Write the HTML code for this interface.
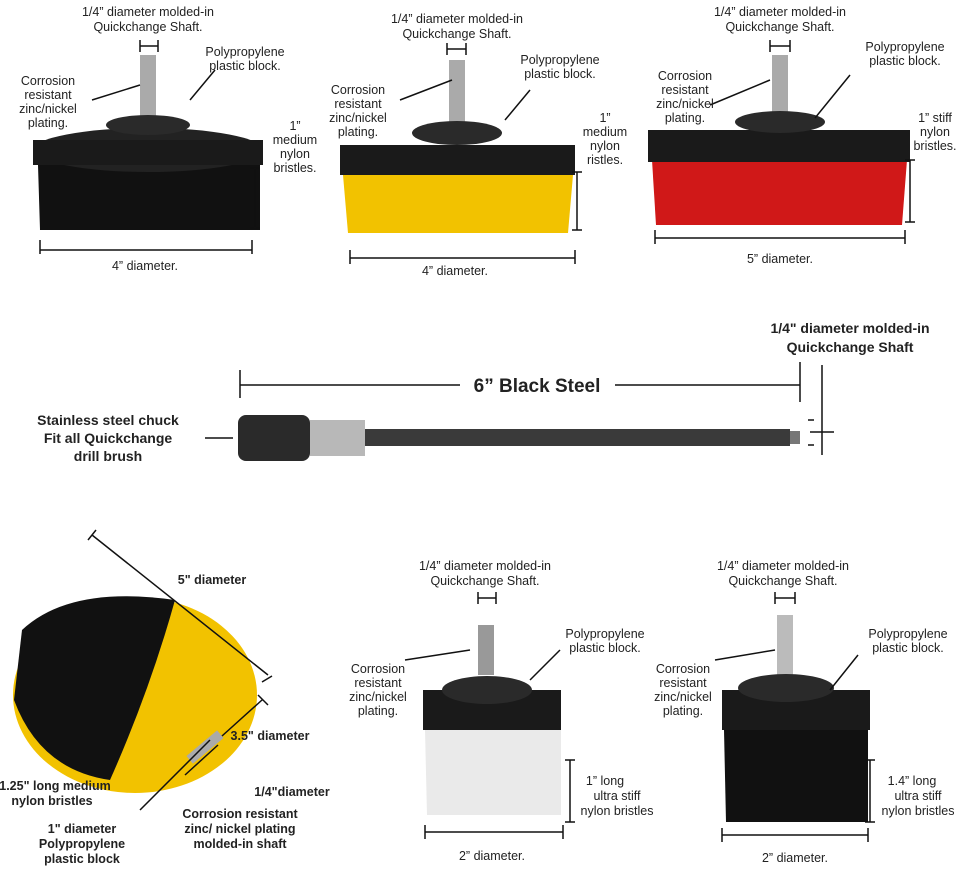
<!DOCTYPE html>
<html><head><meta charset="utf-8"><style>
body{margin:0;background:#fff}
svg{display:block}
text{font-family:"Liberation Sans",Arial,sans-serif;font-size:12.5px;fill:#222;text-anchor:middle}
.b{font-weight:bold}
</style></head><body>
<svg width="965" height="884" viewBox="0 0 965 884" xmlns="http://www.w3.org/2000/svg">
<!-- brush 1 -->
<rect x="140" y="55" width="16" height="65" fill="#aaa"/>
<path d="M38 165h222v65H40z" fill="#111"/>
<ellipse cx="148" cy="150" rx="115" ry="22" fill="#222"/>
<rect x="33" y="140" width="230" height="25" fill="#1a1a1a"/>
<ellipse cx="148" cy="125" rx="42" ry="10" fill="#2a2a2a"/>
<!-- brush 2 -->
<rect x="449" y="60" width="16" height="70" fill="#aaa"/>
<path d="M343 175h230l-5 58H348z" fill="#f2c200"/>
<rect x="340" y="145" width="235" height="30" fill="#1a1a1a"/>
<ellipse cx="457" cy="133" rx="45" ry="12" fill="#2a2a2a"/>
<!-- brush 3 -->
<rect x="772" y="55" width="16" height="65" fill="#aaa"/>
<path d="M652 160h255l-5 65H656z" fill="#d01818"/>
<rect x="648" y="130" width="262" height="32" fill="#1a1a1a"/>
<ellipse cx="780" cy="122" rx="45" ry="11" fill="#2a2a2a"/>
<!-- rod -->
<rect x="238" y="415" width="72" height="46" rx="8" fill="#2a2a2a"/>
<rect x="310" y="420" width="55" height="36" fill="#b8b8b8"/>
<rect x="365" y="429" width="425" height="17" fill="#3a3a3a"/>
<rect x="790" y="431" width="10" height="13" fill="#777"/>
<!-- ball brush -->
<ellipse cx="135" cy="695" rx="122" ry="98" fill="#f2c200"/>
<path d="M22 630Q70 585 175 600Q150 690 110 780Q40 770 14 700z" fill="#111"/>
<rect x="185" y="742" width="40" height="10" fill="#aaa" transform="rotate(-40 205 747)"/>
<!-- white brush -->
<rect x="478" y="625" width="16" height="50" fill="#999"/>
<rect x="423" y="690" width="138" height="40" fill="#1a1a1a"/>
<ellipse cx="487" cy="690" rx="45" ry="14" fill="#2a2a2a"/>
<path d="M425 730h136v85H427z" fill="#eaeaea"/>
<!-- black brush 2 -->
<rect x="777" y="615" width="16" height="70" fill="#bbb"/>
<rect x="722" y="690" width="148" height="40" fill="#1a1a1a"/>
<ellipse cx="786" cy="688" rx="48" ry="14" fill="#2a2a2a"/>
<path d="M724 730h144v92H726z" fill="#111"/>
<g stroke="#111" stroke-width="1.5" fill="none">
<path d="M140 40v12M158 40v12M140 46h18"/>
<path d="M255 168v60M250 168h10M250 228h10"/>
<path d="M40 240v14M252 240v14M40 250h212"/>
<path d="M92 100L140 85M190 100L215 70"/>
<path d="M447 43v12M466 43v12M447 49h19"/>
<path d="M577 172v58M572 172h10M572 230h10"/>
<path d="M350 250v14M575 250v14M350 258h225"/>
<path d="M400 100L452 80M505 120L530 90"/>
<path d="M770 40v12M790 40v12M770 46h20"/>
<path d="M910 160v62M905 160h10M905 222h10"/>
<path d="M655 230v14M905 230v14M655 238h250"/>
<path d="M710 105L770 80M815 118L850 75"/>
<path d="M240 370v28M800 362v40M240 385h220M615 385h185"/>
<path d="M822 365v90M810 432h24M808 420h6M808 445h6"/>
<path d="M205 438h28"/>
<path d="M92 535L268 675M88 540l8-10M262 682l10-6"/>
<path d="M258 695L268 705M222 736L262 700"/>
<path d="M478 592v12M496 592v12M478 598h18"/>
<path d="M405 660L470 650M530 680L560 650"/>
<path d="M570 760v62M565 760h10M565 822h10"/>
<path d="M425 825v14M563 825v14M425 832h138"/>
<path d="M775 592v12M795 592v12M775 598h20"/>
<path d="M715 660L775 650M830 690L858 655"/>
<path d="M870 760v62M865 760h10M865 822h10"/>
<path d="M722 828v14M868 828v14M722 835h146"/>
<path d="M140 810L210 740M185 775L218 745"/>
</g>
<!-- text -->
<text x="148" y="16">1/4” diameter molded-in</text><text x="148" y="31">Quickchange Shaft.</text>
<text x="48" y="85">Corrosion</text><text x="48" y="99">resistant</text><text x="48" y="113">zinc/nickel</text><text x="48" y="127">plating.</text>
<text x="245" y="56">Polypropylene</text><text x="245" y="70">plastic block.</text>
<text x="295" y="130">1”</text><text x="295" y="144">medium</text><text x="295" y="158">nylon</text><text x="295" y="172">bristles.</text>
<text x="145" y="270">4” diameter.</text>
<text x="457" y="23">1/4” diameter molded-in</text><text x="457" y="38">Quickchange Shaft.</text>
<text x="358" y="94">Corrosion</text><text x="358" y="108">resistant</text><text x="358" y="122">zinc/nickel</text><text x="358" y="136">plating.</text>
<text x="560" y="64">Polypropylene</text><text x="560" y="78">plastic block.</text>
<text x="605" y="122">1”</text><text x="605" y="136">medium</text><text x="605" y="150">nylon</text><text x="605" y="164">ristles.</text>
<text x="455" y="275">4” diameter.</text>
<text x="780" y="16">1/4” diameter molded-in</text><text x="780" y="31">Quickchange Shaft.</text>
<text x="685" y="80">Corrosion</text><text x="685" y="94">resistant</text><text x="685" y="108">zinc/nickel</text><text x="685" y="122">plating.</text>
<text x="905" y="51">Polypropylene</text><text x="905" y="65">plastic block.</text>
<text x="935" y="122">1” stiff</text><text x="935" y="136">nylon</text><text x="935" y="150">bristles.</text>
<text x="780" y="263">5” diameter.</text>
<text x="850" y="333" class="b" style="font-size:14px">1/4" diameter molded-in</text><text x="850" y="352" class="b" style="font-size:14px">Quickchange Shaft</text>
<text x="537" y="392" class="b" style="font-size:19px">6” Black Steel</text>
<text x="108" y="425" class="b" style="font-size:14px">Stainless steel chuck</text><text x="108" y="443" class="b" style="font-size:14px">Fit all Quickchange</text><text x="108" y="461" class="b" style="font-size:14px">drill brush</text>
<text x="212" y="584" class="b">5" diameter</text>
<text x="270" y="740" class="b">3.5" diameter</text>
<text x="292" y="796" class="b">1/4"diameter</text>
<text x="55" y="790" class="b">1.25" long medium</text><text x="52" y="805" class="b">nylon bristles</text>
<text x="240" y="818" class="b">Corrosion resistant</text><text x="240" y="833" class="b">zinc/ nickel plating</text><text x="240" y="848" class="b">molded-in shaft</text>
<text x="82" y="833" class="b">1" diameter</text><text x="82" y="848" class="b">Polypropylene</text><text x="82" y="863" class="b">plastic block</text>
<text x="485" y="570">1/4” diameter molded-in</text><text x="485" y="585">Quickchange Shaft.</text>
<text x="378" y="673">Corrosion</text><text x="378" y="687">resistant</text><text x="378" y="701">zinc/nickel</text><text x="378" y="715">plating.</text>
<text x="605" y="638">Polypropylene</text><text x="605" y="652">plastic block.</text>
<text x="605" y="785">1” long</text><text x="617" y="800">ultra stiff</text><text x="617" y="815">nylon bristles</text>
<text x="492" y="860">2” diameter.</text>
<text x="783" y="570">1/4” diameter molded-in</text><text x="783" y="585">Quickchange Shaft.</text>
<text x="683" y="673">Corrosion</text><text x="683" y="687">resistant</text><text x="683" y="701">zinc/nickel</text><text x="683" y="715">plating.</text>
<text x="908" y="638">Polypropylene</text><text x="908" y="652">plastic block.</text>
<text x="912" y="785">1.4” long</text><text x="918" y="800">ultra stiff</text><text x="918" y="815">nylon bristles</text>
<text x="795" y="862">2” diameter.</text>
</svg>
</body></html>
